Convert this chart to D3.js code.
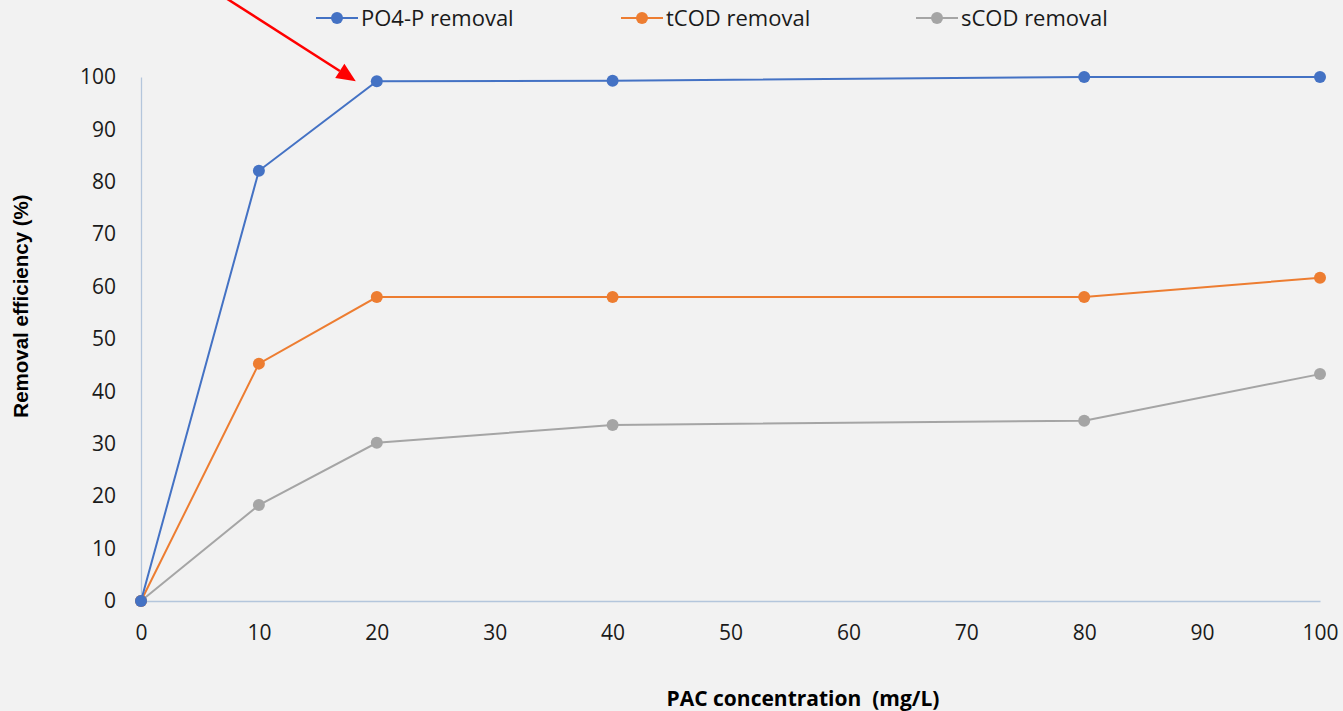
<!DOCTYPE html>
<html>
<head>
<meta charset="utf-8">
<script src="https://cdn.jsdelivr.net/npm/d3@7"></script>
<style>
  html, body { margin: 0; padding: 0; background: #f2f2f2; }
  svg { display: block; }
</style>
</head>
<body>
<svg id="chart" width="1343" height="711"></svg>
<script>
// PAC dose (mg/L) and removal efficiencies (%)
const pacDose = [0, 10, 20, 40, 80, 100];
const po4Removal = [0, 82.1, 99.2, 99.3, 100, 100];
const tcodRemoval = [0, 45.3, 58.0, 58.0, 58.0, 61.7];
const scodRemoval = [0, 18.3, 30.2, 33.6, 34.4, 43.3];

const xTicks = [0, 10, 20, 30, 40, 50, 60, 70, 80, 90, 100];
const yTicks = [0, 10, 20, 30, 40, 50, 60, 70, 80, 90, 100];

const seriesNames = ["PO4-P removal", "tCOD removal", "sCOD removal"];
const seriesColors = ["#4472c4", "#ed7d31", "#a5a5a5"];
const seriesValues = [po4Removal, tcodRemoval, scodRemoval];

const svg = d3.select("#chart");
const W = 1343, H = 711;
svg.append("rect").attr("width", W).attr("height", H).attr("fill", "#f2f2f2");

const x = d3.scaleLinear().domain([0, 100]).range([141, 1320]);
const y = d3.scaleLinear().domain([0, 100]).range([601, 77]);

const tickFont = "'Open Sans', 'DejaVu Sans', sans-serif";

// axes
const xAxis = svg.append("g").attr("transform", `translate(0,${y(0)})`)
  .call(d3.axisBottom(x).tickValues(xTicks).tickSize(0).tickPadding(24).tickFormat(d3.format("d")));
xAxis.select(".domain").attr("stroke", "#b4c6dc").attr("stroke-width", 1.3);
xAxis.selectAll("text").attr("font-family", tickFont).attr("font-size", 21).attr("fill", "#1a1a1a");

const yAxis = svg.append("g").attr("transform", `translate(${x(0)},0)`)
  .call(d3.axisLeft(y).tickValues(yTicks).tickSize(0).tickPadding(25).tickFormat(d3.format("d")));
yAxis.select(".domain").attr("stroke", "#b4c6dc").attr("stroke-width", 1.3);
yAxis.selectAll("text").attr("font-family", tickFont).attr("font-size", 21).attr("fill", "#1a1a1a");

// series lines and markers
const line = d3.line().x((d, i) => x(pacDose[i])).y(d => y(d));
// draw in reverse so the first series sits on top
for (let s = seriesValues.length - 1; s >= 0; s--) {
  const g = svg.append("g");
  g.append("path").datum(seriesValues[s]).attr("d", line)
    .attr("fill", "none").attr("stroke", seriesColors[s]).attr("stroke-width", 2);
  g.selectAll("circle").data(seriesValues[s]).join("circle")
    .attr("cx", (d, i) => x(pacDose[i])).attr("cy", d => y(d)).attr("r", 6)
    .attr("fill", seriesColors[s]);
}

// axis titles
svg.append("text")
  .attr("transform", `translate(28,306) rotate(-90)`)
  .attr("text-anchor", "middle")
  .attr("font-family", "'Liberation Sans', Arial, sans-serif")
  .attr("font-weight", "bold").attr("font-size", 20.5).attr("fill", "#000")
  .text("Removal efficiency (%)");

svg.append("text")
  .attr("x", 803).attr("y", 706)
  .attr("text-anchor", "middle")
  .attr("font-family", "'Open Sans', sans-serif")
  .attr("font-weight", "bold").attr("font-size", 21).attr("fill", "#000")
  .attr("xml:space", "preserve")
  .text("PAC concentration  (mg/L)");

// legend
const legendX = [316, 621, 916];
seriesNames.forEach((name, i) => {
  const g = svg.append("g").attr("transform", `translate(${legendX[i]},18)`);
  g.append("line").attr("x1", 0).attr("x2", 42).attr("y1", 0).attr("y2", 0)
    .attr("stroke", seriesColors[i]).attr("stroke-width", 2);
  g.append("circle").attr("cx", 21).attr("cy", 0).attr("r", 6).attr("fill", seriesColors[i]);
  g.append("text").attr("x", 45).attr("y", 8)
    .attr("font-family", "'Open Sans', sans-serif").attr("font-size", 22).attr("fill", "#1a1a1a")
    .text(name);
});

// red annotation arrow pointing at the 20 mg/L PO4-P point
const tip = [x(20) - 21, y(po4Removal[2])];
const tail = [tip[0] - 150, tip[1] - 96];
const ang = Math.atan2(tip[1] - tail[1], tip[0] - tail[0]);
const headLen = 19, headW = 8.5;
const base = [tip[0] - headLen * Math.cos(ang), tip[1] - headLen * Math.sin(ang)];
svg.append("line")
  .attr("x1", tail[0]).attr("y1", tail[1]).attr("x2", base[0]).attr("y2", base[1])
  .attr("stroke", "#ff0000").attr("stroke-width", 2.5);
svg.append("path")
  .attr("d", d3.line()([
    tip,
    [base[0] + headW * Math.sin(ang), base[1] - headW * Math.cos(ang)],
    [base[0] - headW * Math.sin(ang), base[1] + headW * Math.cos(ang)]
  ]) + "Z")
  .attr("fill", "#ff0000");
</script>
</body>
</html>
